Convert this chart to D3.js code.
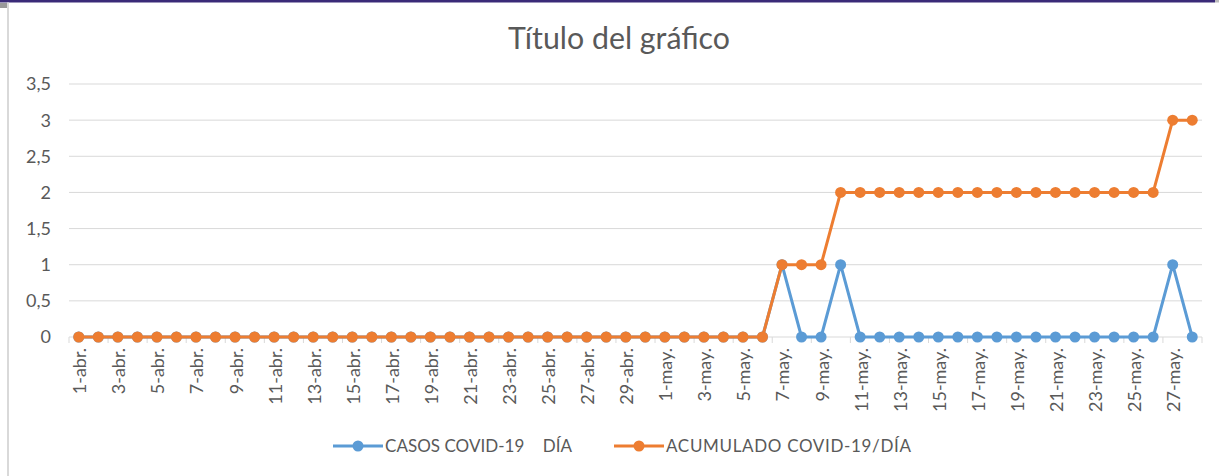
<!DOCTYPE html>
<html><head><meta charset="utf-8">
<script src="https://cdn.jsdelivr.net/npm/d3@7"></script>
<style>
html,body{margin:0;padding:0;background:#fff;}
svg{display:block;}
text{font-family:Lato,"Open Sans",sans-serif;fill:#595959;}
</style></head>
<body><svg id="c" width="1219" height="476"></svg>
<script>
const categories = ["1-abr.","2-abr.","3-abr.","4-abr.","5-abr.","6-abr.","7-abr.","8-abr.","9-abr.","10-abr.",
"11-abr.","12-abr.","13-abr.","14-abr.","15-abr.","16-abr.","17-abr.","18-abr.","19-abr.","20-abr.",
"21-abr.","22-abr.","23-abr.","24-abr.","25-abr.","26-abr.","27-abr.","28-abr.","29-abr.","30-abr.",
"1-may.","2-may.","3-may.","4-may.","5-may.","6-may.","7-may.","8-may.","9-may.","10-may.",
"11-may.","12-may.","13-may.","14-may.","15-may.","16-may.","17-may.","18-may.","19-may.","20-may.",
"21-may.","22-may.","23-may.","24-may.","25-may.","26-may.","27-may.","28-may."];
const casosDia = [0,0,0,0,0,0,0,0,0,0, 0,0,0,0,0,0,0,0,0,0, 0,0,0,0,0,0,0,0,0,0,
0,0,0,0,0,0,1,0,0,1, 0,0,0,0,0,0,0,0,0,0, 0,0,0,0,0,0,1,0];
const acumulado = [0,0,0,0,0,0,0,0,0,0, 0,0,0,0,0,0,0,0,0,0, 0,0,0,0,0,0,0,0,0,0,
0,0,0,0,0,0,1,1,1,2, 2,2,2,2,2,2,2,2,2,2, 2,2,2,2,2,2,3,3];
const yTicks = [0,0.5,1,1.5,2,2.5,3,3.5];
const seriesNames = ["CASOS COVID-19  DÍA","ACUMULADO COVID-19/DÍA"];
const title = "Título del gráfico";

const svg = d3.select("#c");
const W=1219,H=476;
// frame
svg.append("rect").attr("x",0).attr("y",0).attr("width",1215).attr("height",2.5).attr("fill","#3a2a78");
svg.append("rect").attr("x",1215).attr("y",0).attr("width",4).attr("height",2.5).attr("fill","#bbb");
svg.append("rect").attr("x",0).attr("y",3).attr("width",7).attr("height",5).attr("fill","#999");
svg.append("rect").attr("x",7).attr("y",2.5).attr("width",2).attr("height",H).attr("fill","#d9d9d9");

const x = d3.scaleBand().domain(categories).range([69,1202]).padding(0);
const y = d3.scaleLinear().domain([0,3.5]).range([337,84]);
const cx = d=>x(d)+x.bandwidth()/2;

// gridlines
svg.append("g").selectAll("line").data(yTicks).join("line")
  .attr("x1",69).attr("x2",1202).attr("y1",d=>y(d)).attr("y2",d=>y(d))
  .attr("stroke","#d9d9d9").attr("stroke-width",1);
// y labels
const fmt = d=>String(d).replace(".",",");
svg.append("g").selectAll("text").data(yTicks).join("text")
  .attr("x",51).attr("y",d=>y(d)).attr("dy","0.36em").attr("text-anchor","end")
  .style("font-size","18px").text(fmt);
// x ticks at boundaries every 2 categories
const tickCats = categories.filter((d,i)=>i%2===0);
const tg = svg.append("g");
tg.selectAll("line").data(tickCats).join("line")
  .attr("x1",d=>x(d)).attr("x2",d=>x(d)).attr("y1",337).attr("y2",343)
  .attr("stroke","#d9d9d9");
tg.append("line").attr("x1",1202).attr("x2",1202).attr("y1",337).attr("y2",343).attr("stroke","#d9d9d9");
// x labels
svg.append("g").selectAll("text").data(tickCats).join("text")
  .attr("transform",d=>`translate(${cx(d)+1},348) rotate(-90)`)
  .attr("dy","0.36em").attr("text-anchor","end").style("font-size","18px").text(d=>d);

const blue="#5B9BD5", orange="#ED7D31";
function drawSeries(vals,color){
  const data = categories.map((c,i)=>({c,v:vals[i]}));
  const line = d3.line().x(d=>cx(d.c)).y(d=>y(d.v));
  const g = svg.append("g");
  g.append("path").datum(data).attr("d",line).attr("fill","none")
    .attr("stroke",color).attr("stroke-width",3).attr("stroke-linejoin","round");
  g.selectAll("circle").data(data).join("circle")
    .attr("cx",d=>cx(d.c)).attr("cy",d=>y(d.v)).attr("r",5.5).attr("fill",color);
}
drawSeries(casosDia,blue);
drawSeries(acumulado,orange);

// title
const t = svg.append("text").attr("x",619).attr("y",49).attr("text-anchor","middle")
  .style("font-size","24px").text(title);
const tl = t.node().getComputedTextLength();
t.style("font-size",(24*222/tl).toFixed(2)+"px");

// legend
const leg = [{n:seriesNames[0],c:blue,x0:333,w:187},{n:seriesNames[1],c:orange,x0:614,w:245}];
const lg = svg.append("g").selectAll("g").data(leg).join("g");
lg.append("line").attr("x1",d=>d.x0).attr("x2",d=>d.x0+50).attr("y1",446).attr("y2",446)
  .attr("stroke",d=>d.c).attr("stroke-width",3);
lg.append("circle").attr("cx",d=>d.x0+25).attr("cy",446).attr("r",5.5).attr("fill",d=>d.c);
lg.each(function(d){
  const g=d3.select(this);
  const txt=g.append("text").attr("x",d.x0+52).attr("y",446).attr("dy","0.36em")
    .style("font-size","17px");
  const parts=d.n.split("  ");
  if(parts.length>1){
    txt.append("tspan").text(parts[0]+" ");
    txt.append("tspan").attr("dx",14).text(" "+parts[1]);
  } else {
    txt.text(d.n);
  }
  const len=txt.node().getComputedTextLength();
  txt.attr("textLength",d.w).attr("lengthAdjust","spacing");
});
</script></body></html>
